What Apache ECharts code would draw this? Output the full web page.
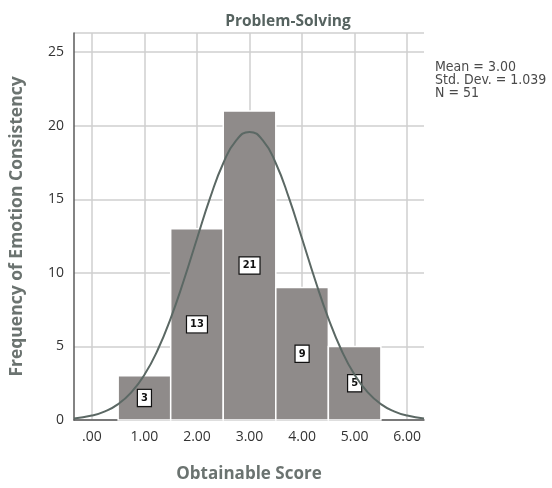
<!DOCTYPE html>
<html><head><meta charset="utf-8">
<script src="https://cdn.jsdelivr.net/npm/echarts@6/dist/echarts.min.js"></script>
<style>html,body{margin:0;padding:0;background:#fff}#c{width:552px;height:488px}</style>
</head><body><div id="c"></div>
<script>
var binCenters = [1, 2, 3, 4, 5];
var binCounts = [3, 13, 21, 9, 5];
var xTicks = [0, 1, 2, 3, 4, 5, 6];
var xTickLabels = ['.00', '1.00', '2.00', '3.00', '4.00', '5.00', '6.00'];
var curveX = [-0.34, 0, 0.25, 0.5, 0.75, 1, 1.25, 1.5, 1.75, 2, 2.25, 2.5, 2.75, 3, 3.25, 3.5, 3.75, 4, 4.25, 4.5, 4.75, 5, 5.25, 5.5, 5.75, 6, 6.32];
var curveY = [0.11, 0.30, 0.59, 1.08, 1.88, 3.07, 4.74, 6.91, 9.50, 12.32, 15.09, 17.45, 19.02, 19.58, 19.02, 17.45, 15.09, 12.32, 9.50, 6.91, 4.74, 3.07, 1.88, 1.08, 0.59, 0.30, 0.11];
var statsLines = ['Mean = 3.00', 'Std. Dev. = 1.039', 'N = 51'];

var chart = echarts.init(document.getElementById('c'), null, {renderer: 'canvas'});
var font = 'Open Sans';
chart.setOption({
  animation: false,
  title: {
    text: 'Problem-Solving', left: 283, top: 9, textAlign: 'center',
    textStyle: {fontFamily: font, fontSize: 15.5, fontWeight: 'bold', color: '#566360'}
  },
  grid: {left: 74, top: 33, right: 128, bottom: 68, containLabel: false},
  xAxis: {
    type: 'value', min: -0.34, max: 6.32,
    name: 'Obtainable Score', nameLocation: 'middle', nameGap: 46,
    nameTextStyle: {fontFamily: font, fontSize: 17, fontWeight: 'bold', color: '#6b7370'},
    axisLine: {show: true, onZero: false, lineStyle: {color: '#5a5a5a', width: 1.5}},
    axisTick: {show: false, customValues: xTicks},
    axisLabel: {customValues: xTicks, formatter: function (v) { return xTickLabels[xTicks.indexOf(v)]; },
      fontFamily: font, fontSize: 14, color: '#333', margin: 10},
    splitLine: {show: true, lineStyle: {color: '#cfcfcf', width: 1.5}}
  },
  yAxis: {
    type: 'value', min: 0, max: 26.3, interval: 5,
    name: 'Frequency of Emotion Consistency', nameLocation: 'middle', nameGap: 48,
    nameTextStyle: {fontFamily: font, fontSize: 17.5, fontWeight: 'bold', color: '#6b7370'},
    axisLine: {show: true, onZero: false, lineStyle: {color: '#5a5a5a', width: 1.5}},
    axisTick: {show: false},
    axisLabel: {fontFamily: font, fontSize: 14, color: '#333', margin: 10,
      formatter: function (v) { return (v % 5 === 0) ? String(v) : ''; }},
    splitLine: {show: true, lineStyle: {color: '#cfcfcf', width: 1.5}}
  },
  series: [
    {
      type: 'custom',
      data: binCenters.map(function (c, i) { return [c, binCounts[i]]; }),
      renderItem: function (params, api) {
        var c = api.value(0), v = api.value(1);
        var p1 = api.coord([c - 0.5, v]);
        var p2 = api.coord([c + 0.5, 0]);
        var mid = api.coord([c, v / 2]);
        return {
          type: 'group',
          children: [
            {type: 'rect', shape: {x: p1[0], y: p1[1], width: p2[0] - p1[0], height: p2[1] - p1[1]},
              style: {fill: '#8f8b8a', stroke: '#ffffff', lineWidth: 1.5}},
            {type: 'text', x: mid[0], y: mid[1],
              style: {text: String(v), align: 'center', verticalAlign: 'middle',
                fontFamily: 'DejaVu Sans Condensed', fontSize: 11, fontWeight: 'bold', fill: '#111',
                backgroundColor: '#fff', borderColor: '#111', borderWidth: 1.2, padding: [3, 3, 2, 3]}}
          ]
        };
      },
      z: 2
    },
    {
      type: 'line',
      data: curveX.map(function (x, i) { return [x, curveY[i]]; }),
      smooth: true, showSymbol: false,
      lineStyle: {color: '#5b6864', width: 2},
      z: 5
    }
  ],
  graphic: [{
    type: 'text', left: 435, top: 60,
    style: {text: statsLines.join('\n'), fontFamily: 'Liberation Sans Narrow, DejaVu Sans Condensed', fontSize: 14, lineHeight: 13, fill: '#4a4a4a'}
  }]
});
</script></body></html>
